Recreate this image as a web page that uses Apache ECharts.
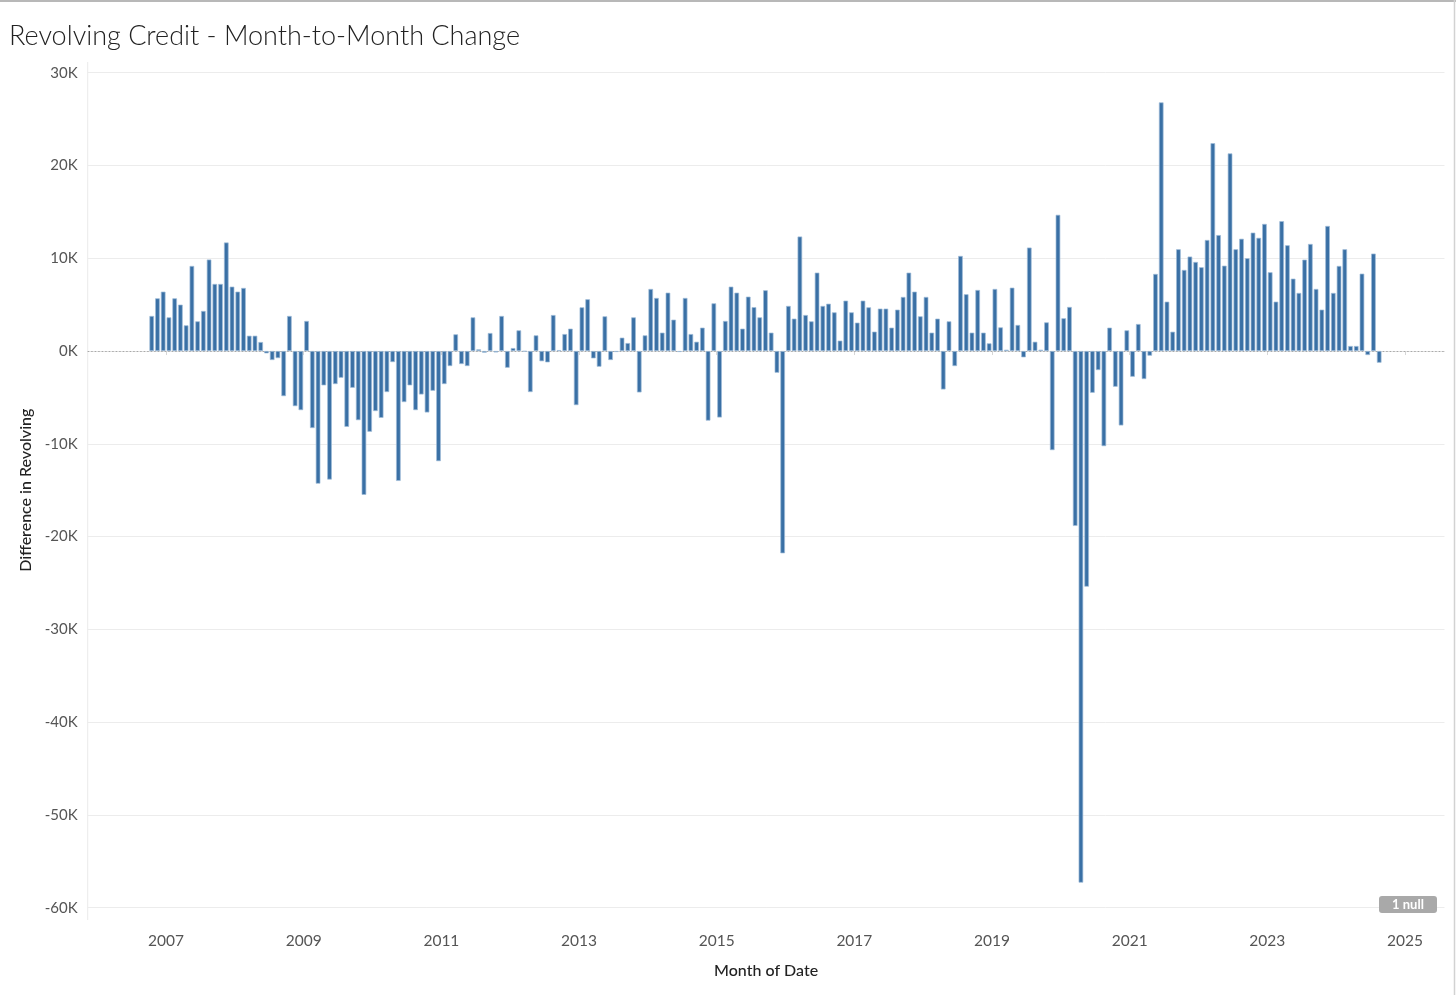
<!DOCTYPE html>
<html>
<head>
<meta charset="utf-8">
<script src="https://cdn.jsdelivr.net/npm/echarts@6/dist/echarts.min.js"></script>
<style>
html,body{margin:0;padding:0;background:#fff;}
#chart{width:1456px;height:995px;}
</style>
</head>
<body>
<div id="chart"></div>
<script>
// Month-to-month change in revolving credit, in thousands (K), first month Oct 2006
const firstYear = 2006;
const firstMonth = 10;
const y2006 = [3.78, 5.68, 6.4];
const y2007 = [3.63, 5.68, 5.0, 2.77, 9.17, 3.2, 4.32, 9.86, 7.23, 7.23, 11.7, 6.94];
const y2008 = [6.4, 6.8, 1.65, 1.65, 0.97, -0.25, -0.97, -0.76, -4.86, 3.78, -5.94, -6.37];
const y2009 = [3.24, -8.3, -14.3, -3.7, -13.85, -3.56, -2.88, -8.17, -3.96, -7.45, -15.5, -8.7];
const y2010 = [-6.47, -7.2, -4.42, -1.19, -14.0, -5.5, -3.7, -6.37, -4.68, -6.62, -4.28, -11.87];
const y2011 = [-3.56, -1.62, 1.8, -1.4, -1.62, 3.63, 0.18, -0.18, 1.94, -0.15, 3.78, -1.8];
const y2012 = [0.32, 2.23, -0.05, -4.42, 1.69, -1.1, -1.22, 3.88, 0.1, 1.83, 2.41, -5.83];
const y2013 = [4.71, 5.58, -0.79, -1.69, 3.74, -0.97, -0.1, 1.44, 0.86, 3.63, -4.46, 1.69];
const y2014 = [6.69, 5.72, 1.98, 6.29, 3.38, -0.1, 5.72, 1.83, 1.0, 2.52, -7.5, 5.14];
const y2015 = [-7.16, 3.24, 6.94, 6.29, 2.41, 5.86, 4.73, 3.63, 6.55, 1.98, -2.34, -21.8];
const y2016 = [4.86, 3.49, 12.34, 3.88, 3.2, 8.45, 4.86, 5.1, 4.17, 1.12, 5.43, 4.17];
const y2017 = [3.06, 5.43, 4.71, 2.09, 4.57, 4.57, 2.52, 4.46, 5.83, 8.45, 6.4, 3.74];
const y2018 = [5.83, 1.98, 3.49, -4.14, 3.2, -1.62, 10.25, 6.12, 1.98, 6.58, 1.98, 0.83];
const y2019 = [6.69, 2.55, 0.14, 6.83, 2.81, -0.68, 11.15, 1.0, 0.14, 3.09, -10.68, 14.68];
const y2020 = [3.53, 4.75, -18.85, -57.3, -25.4, -4.5, -2.05, -10.25, 2.52, -3.85, -8.02, 2.23];
const y2021 = [-2.77, 2.91, -3.02, -0.5, 8.31, 26.8, 5.32, 2.08, 10.97, 8.74, 10.18, 9.6];
const y2022 = [9.03, 11.97, 22.4, 12.5, 9.2, 21.3, 10.97, 12.1, 10.0, 12.76, 12.2, 13.7];
const y2023 = [8.49, 5.32, 14.0, 11.4, 7.8, 6.26, 9.85, 11.54, 6.69, 4.46, 13.48, 6.26];
const y2024 = [9.17, 10.97, 0.54, 0.54, 8.34, -0.43, 10.5, -1.26];

const yearLabels = [2007, 2009, 2011, 2013, 2015, 2017, 2019, 2021, 2023, 2025];

const allValues = [].concat(y2006, y2007, y2008, y2009, y2010, y2011, y2012, y2013,
  y2014, y2015, y2016, y2017, y2018, y2019, y2020, y2021, y2022, y2023, y2024);

// each month's bar sits in the middle of its month on a decimal-year axis
const seriesData = allValues.map(function (v, i) {
  const mIndex = firstMonth - 1 + i;
  const yr = firstYear + Math.floor(mIndex / 12);
  const m = mIndex % 12;
  return [yr + (m + 0.5) / 12, v];
});

const chart = echarts.init(document.getElementById('chart'), null, {renderer: 'canvas'});
const FONT = 'Lato, "Open Sans", sans-serif';

chart.setOption({
  animation: false,
  backgroundColor: '#ffffff',
  title: {
    text: 'Revolving Credit - Month-to-Month Change',
    left: 4,
    top: 18,
    textStyle: {fontFamily: FONT, fontWeight: 300, fontSize: 27, color: '#222'}
  },
  grid: {left: 87.7, right: 11.5, top: 72.7, bottom: 87.3, containLabel: false},
  xAxis: {
    type: 'value',
    min: 2005.8615,
    max: 2025.574,
    offset: 12.3,
    axisLine: {show: true, lineStyle: {color: '#e3e3e3', width: 1}},
    axisTick: {show: true, customValues: yearLabels, length: 4, lineStyle: {color: '#d6d6d6'}},
    axisLabel: {
      customValues: yearLabels,
      color: '#555',
      fontFamily: FONT,
      fontSize: 15.5,
      margin: 13,
      formatter: function (v) { return String(Math.round(v)); }
    },
    splitLine: {show: false},
    name: 'Month of Date',
    nameLocation: 'middle',
    nameGap: 43,
    nameTextStyle: {color: '#222', fontFamily: FONT, fontSize: 16, fontWeight: 500}
  },
  yAxis: {
    type: 'value',
    min: -60,
    max: 30,
    interval: 10,
    axisLine: {show: false},
    axisTick: {show: false},
    axisLabel: {
      color: '#555',
      fontFamily: FONT,
      fontSize: 15,
      margin: 10,
      formatter: function (v) { return v + 'K'; }
    },
    splitLine: {show: true, lineStyle: {color: '#ececec', width: 1}},
    name: 'Difference in Revolving',
    nameLocation: 'middle',
    nameRotate: 90,
    nameGap: 54,
    nameTextStyle: {color: '#222', fontFamily: FONT, fontSize: 16, fontWeight: 500}
  },
  series: [{
    type: 'bar',
    data: seriesData,
    barWidth: 4.6,
    itemStyle: {color: '#3a70a5', borderColor: '#9fbcd9', borderWidth: 0.7},
    markLine: {
      silent: true,
      symbol: 'none',
      label: {show: false},
      lineStyle: {color: '#a8a8a8', type: [1.5, 2], width: 1},
      data: [{yAxis: 0}],
      z: 1
    }
  }],
  graphic: [
    {type: 'line', shape: {x1: 0, y1: 1, x2: 1456, y2: 1}, style: {stroke: '#b8b8b8', lineWidth: 2}, silent: true},
    {type: 'line', shape: {x1: 1454.5, y1: 0, x2: 1454.5, y2: 995}, style: {stroke: '#d2d2d2', lineWidth: 1.5}, silent: true},
    {type: 'line', shape: {x1: 87.7, y1: 62, x2: 87.7, y2: 920}, style: {stroke: '#ebebeb', lineWidth: 1}, silent: true},
    {type: 'rect', shape: {x: 1379, y: 896, width: 58, height: 17, r: 3}, style: {fill: '#a9a9a9'}, silent: true, z: 100},
    {type: 'text', x: 1408, y: 905, silent: true, z: 101,
      style: {text: '1 null', fill: '#ffffff', font: 'bold 13px ' + FONT, align: 'center', verticalAlign: 'middle'}}
  ]
});
</script>
</body>
</html>
